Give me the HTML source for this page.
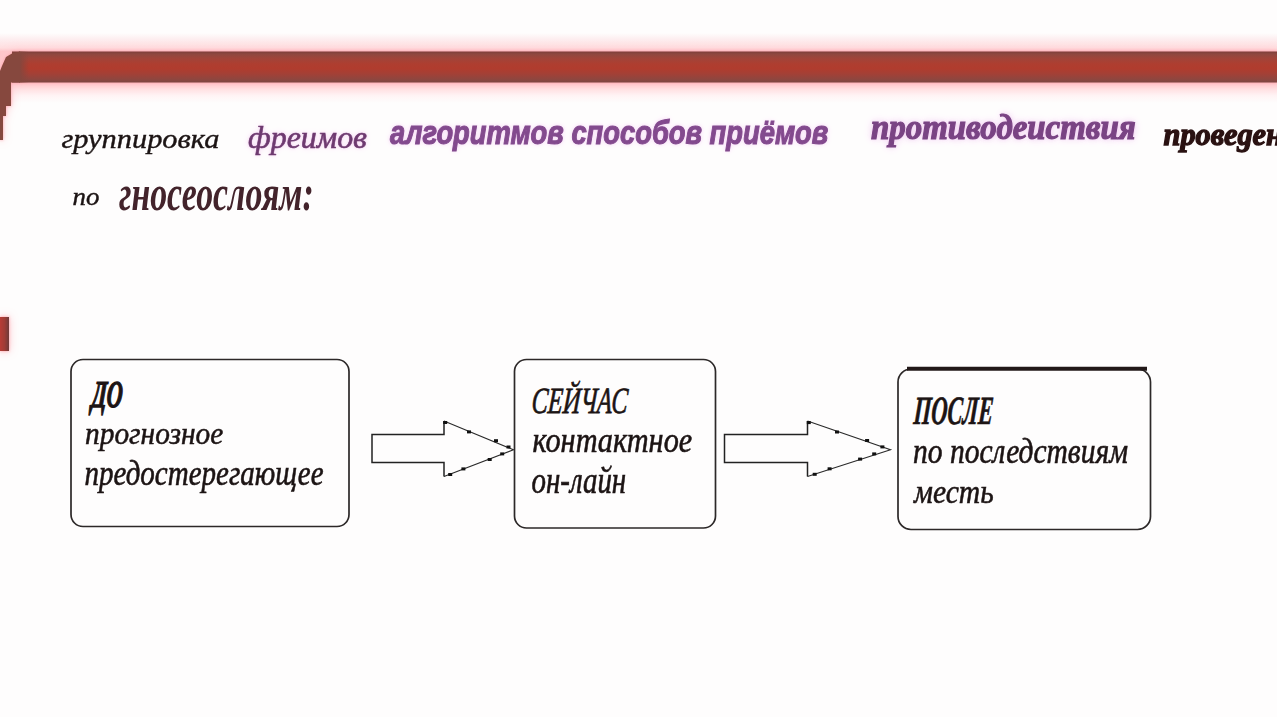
<!DOCTYPE html>
<html><head><meta charset="utf-8">
<style>
html,body{margin:0;padding:0;}
body{width:1277px;height:717px;overflow:hidden;background:#fefdfd;position:relative;font-family:"Liberation Serif",serif;}
.t{position:absolute;white-space:nowrap;line-height:1;font-style:italic;}
</style></head><body>
<div style="position:absolute;left:0;top:33px;width:1277px;height:70px;background:linear-gradient(rgba(255,240,241,0) 0px,#fdeef0 6px,#ffdee0 15px,#ffc6ca 18.5px,#ffc2c6 49.5px,#ffd0d3 52px,#ffe4e6 57px,#fff4f5 63px,rgba(255,250,250,0) 70px);"></div>
<svg width="1277" height="400" style="position:absolute;left:0;top:0;filter:drop-shadow(0 0 1.5px rgba(255,160,168,1)) drop-shadow(0 0 4px rgba(255,200,206,0.9));">
 <defs>
  <linearGradient id="bg" x1="0" y1="0" x2="0" y2="1">
   <stop offset="0" stop-color="#7c3e3a"/><stop offset="0.08" stop-color="#8e4840"/><stop offset="0.22" stop-color="#a0443a"/>
   <stop offset="0.4" stop-color="#ae3e30"/><stop offset="0.55" stop-color="#b03c2e"/><stop offset="0.72" stop-color="#a34036"/>
   <stop offset="0.9" stop-color="#8e463f"/><stop offset="1" stop-color="#7a4440"/>
  </linearGradient>
  <linearGradient id="cg" x1="0" y1="0" x2="1" y2="0">
   <stop offset="0" stop-color="#83473e" stop-opacity="1"/><stop offset="1" stop-color="#83473e" stop-opacity="0"/>
  </linearGradient>
  <linearGradient id="lg" x1="0" y1="0" x2="1" y2="0">
   <stop offset="0" stop-color="#b83c36"/><stop offset="0.5" stop-color="#a03c36"/><stop offset="1" stop-color="#6e3a3a"/>
  </linearGradient>
 </defs>
 <rect x="12" y="51.5" width="1270" height="31" fill="url(#bg)"/>
 <rect x="19" y="51.5" width="10" height="31" fill="url(#cg)"/>
 <path d="M0,140 L0,71 L2,66 L6,57 L12,53.5 L20,51.5 L20,82.5 L11,82.5 L11,106 L6,106 L6,116 L3,116 L3,140 Z" fill="#86483e"/>
 <rect x="0" y="317" width="9" height="34" fill="url(#lg)"/>
</svg>
<svg width="1277" height="717" style="position:absolute;left:0;top:0">
 <g fill="none" stroke="#2c2828" stroke-width="1.7">
  <rect x="71" y="359.5" width="278" height="167" rx="12"/>
  <rect x="514.5" y="359.5" width="201" height="168.5" rx="12"/>
  <rect x="898" y="369" width="252.5" height="160.5" rx="13"/>
 </g>
 <g fill="none" stroke="#222" stroke-width="1.5">
  <polyline points="444,421 444,434.5 372,434.5 372,462.5 444,462.5 444,476.5"/>
  <polyline points="807.5,421 807.5,434.5 724.5,434.5 724.5,462.5 807.5,462.5 807.5,476.5"/>
 </g>
 <g fill="none" stroke="#2a2a2a" stroke-width="1.1">
  <polyline points="444,421 513.5,449.8 444,476.5"/>
  <polyline points="807.5,421 890.5,449.8 807.5,476.5"/>
 </g>
 <g fill="#111"><rect x="443.2" y="421.0" width="4" height="3"/><rect x="467.0" y="430.4" width="4" height="3"/><rect x="494.0" y="439.2" width="4" height="3"/><rect x="506.5" y="445.5" width="4" height="3"/><rect x="448.2" y="473.0" width="4" height="3"/><rect x="461.4" y="467.4" width="4" height="3"/><rect x="487.7" y="458.0" width="4" height="3"/><rect x="500.2" y="452.4" width="4" height="3"/><rect x="806.8" y="421.1" width="4" height="3"/><rect x="835.0" y="430.5" width="4" height="3"/><rect x="865.1" y="439.0" width="4" height="3"/><rect x="880.4" y="445.4" width="4" height="3"/><rect x="812.7" y="472.8" width="4" height="3"/><rect x="827.6" y="467.3" width="4" height="3"/><rect x="858.1" y="457.6" width="4" height="3"/><rect x="872.2" y="452.4" width="4" height="3"/></g>
 <line x1="907" y1="368.8" x2="1147" y2="368.8" stroke="#221818" stroke-width="4"/>
</svg>
<!--T-->
<div class="t" style="left:61.49px;top:122.55px;font-family:'Liberation Serif';font-weight:normal;font-size:30.39px;color:#1c1414;-webkit-text-stroke:0.45px #1c1414;transform-origin:0 83.74%;transform:skewX(0deg) scaleY(0.882);">группировка</div>
<div class="t" style="left:247.99px;top:121.75px;font-family:'Liberation Serif';font-weight:normal;font-size:31.95px;color:#6e3a70;-webkit-text-stroke:0.6px #6e3a70;text-shadow:0 0 3px #f2c8f0,0 0 6px #f6d8f4;transform-origin:0 83.74%;transform:skewX(0deg) scaleY(0.968);">фреимов</div>
<div class="t" style="left:389.96px;top:121.25px;font-family:'Liberation Sans';font-weight:bold;font-size:27.34px;color:#834a8e;-webkit-text-stroke:0.9px #834a8e;text-shadow:0 0 3px #f4d0f4,0 0 6px #f8e0f8;transform-origin:0 84.67%;transform:skewX(0deg) scaleY(1.205);">алгоритмов способов приёмов</div>
<div class="t" style="left:871.00px;top:112.24px;font-family:'Liberation Serif';font-weight:bold;font-size:32.91px;color:#7a4484;-webkit-text-stroke:1.1px #7a4484;text-shadow:0 0 3px #eec4ee,0 0 7px #f2d2f2,0 0 10px #f6e0f6;transform-origin:0 83.74%;transform:skewX(0deg) scaleY(1.112);">противодеиствия</div>
<div class="t" style="left:1163.50px;top:120.08px;font-family:'Liberation Serif';font-weight:bold;font-size:30.36px;color:#2a1212;-webkit-text-stroke:1.3px #2a1212;transform-origin:0 83.74%;transform:skewX(0deg) scaleY(1.019);">провеgен</div>
<div class="t" style="left:72.60px;top:182.55px;font-family:'Liberation Serif';font-weight:normal;font-size:26.81px;color:#1c1414;-webkit-text-stroke:0.45px #1c1414;transform-origin:0 83.74%;transform:skewX(0deg) scaleY(0.910);">по</div>
<div class="t" style="left:119.00px;top:182.30px;font-family:'Liberation Serif';font-weight:bold;font-size:33.79px;color:#43232b;transform-origin:0 83.74%;transform:skewX(0deg) scaleY(1.509);">гносеослоям:</div>
<div class="t" style="left:91.22px;top:389.42px;font-family:'Liberation Serif';font-weight:bold;font-size:21.95px;color:#1c1414;-webkit-text-stroke:0.8px #1c1414;transform-origin:0 83.74%;transform:skewX(-4deg) scaleY(1.726);">ДО</div>
<div class="t" style="left:85.01px;top:419.98px;font-family:'Liberation Serif';font-weight:normal;font-size:29.40px;color:#1c1414;-webkit-text-stroke:0.5px #1c1414;transform-origin:0 83.74%;transform:skewX(0deg) scaleY(1.097);">прогнозное</div>
<div class="t" style="left:84.54px;top:460.52px;font-family:'Liberation Serif';font-weight:normal;font-size:29.00px;color:#1c1414;-webkit-text-stroke:0.5px #1c1414;transform-origin:0 83.74%;transform:skewX(0deg) scaleY(1.262);">предостерегающее</div>
<div class="t" style="left:530.97px;top:393.00px;font-family:'Liberation Serif';font-weight:normal;font-size:24.36px;color:#1c1414;-webkit-text-stroke:0.5px #1c1414;transform-origin:0 83.74%;transform:skewX(-4deg) scaleY(1.517);">СЕЙЧАС</div>
<div class="t" style="left:532.49px;top:426.95px;font-family:'Liberation Serif';font-weight:normal;font-size:30.27px;color:#1c1414;-webkit-text-stroke:0.5px #1c1414;transform-origin:0 83.74%;transform:skewX(0deg) scaleY(1.202);">контактное</div>
<div class="t" style="left:531.51px;top:468.75px;font-family:'Liberation Serif';font-weight:normal;font-size:28.95px;color:#1c1414;-webkit-text-stroke:0.5px #1c1414;transform-origin:0 83.74%;transform:skewX(0deg) scaleY(1.317);">он-лайн</div>
<div class="t" style="left:912.95px;top:407.47px;font-family:'Liberation Serif';font-weight:bold;font-size:22.49px;color:#1c1414;-webkit-text-stroke:0.35px #1c1414;transform-origin:0 83.74%;transform:skewX(-4deg) scaleY(1.786);">ПОСЛЕ</div>
<div class="t" style="left:913.02px;top:438.67px;font-family:'Liberation Serif';font-weight:normal;font-size:29.53px;color:#1c1414;-webkit-text-stroke:0.5px #1c1414;transform-origin:0 83.74%;transform:skewX(0deg) scaleY(1.247);">по последствиям</div>
<div class="t" style="left:913.99px;top:479.39px;font-family:'Liberation Serif';font-weight:normal;font-size:29.63px;color:#1c1414;-webkit-text-stroke:0.5px #1c1414;transform-origin:0 83.74%;transform:skewX(0deg) scaleY(1.103);">месть</div>
<!--/T-->
</body></html>
